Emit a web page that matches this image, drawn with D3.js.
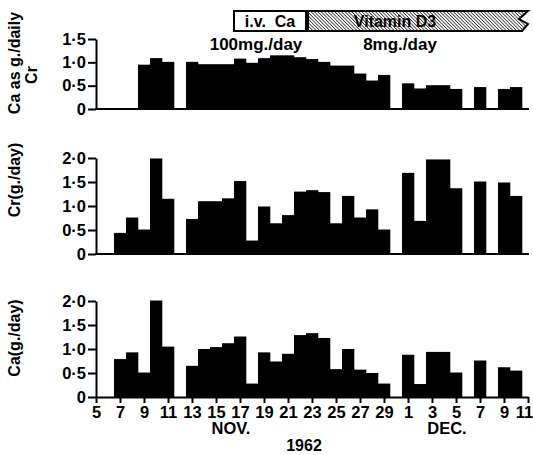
<!DOCTYPE html>
<html>
<head>
<meta charset="utf-8">
<script src="https://cdn.jsdelivr.net/npm/d3@7"></script>
<style>
  body { margin: 0; background: #fff; }
  text { font-family: "Liberation Sans", Arial, sans-serif; font-weight: bold; fill: #000; }
</style>
</head>
<body>
<svg id="chart" width="533" height="455"></svg>
<script>
// one entry per day, 5 Nov .. 11 Dec 1962 (null = no collection)
var days = d3.utcDay.range(Date.UTC(1962, 10, 5), Date.UTC(1962, 11, 12));

// Ca / Cr ratio
var ratio = [null, null, null, null, 0.95, 1.09, 1.01, null, 1.01, 0.96,
  0.96, 0.96, 1.08, 0.99, 1.09, 1.15, 1.15, 1.11, 1.07, 1.01,
  0.93, 0.93, 0.76, 0.61, 0.73, null, 0.55, 0.44, 0.51, 0.51,
  0.43, null, 0.47, null, 0.43, 0.47, null];

// creatinine g/day
var creatinine = [null, null, 0.44, 0.76, 0.51, 1.99, 1.15, null, 0.73, 1.10,
  1.10, 1.16, 1.52, 0.28, 0.99, 0.64, 0.81, 1.30, 1.33, 1.29,
  0.64, 1.21, 0.76, 0.93, 0.51, null, 1.69, 0.69, 1.97, 1.97,
  1.37, null, 1.51, null, 1.49, 1.21, null];

// calcium g/day
var calcium = [null, null, 0.79, 0.93, 0.51, 2.01, 1.05, null, 0.65, 1.00,
  1.04, 1.12, 1.26, 0.28, 0.93, 0.74, 0.90, 1.29, 1.33, 1.23,
  0.58, 1.00, 0.57, 0.50, 0.28, null, 0.88, 0.27, 0.94, 0.94,
  0.51, null, 0.76, null, 0.62, 0.55, null];

var tickDays = [
  [10, 5], [10, 7], [10, 9], [10, 11], [10, 13], [10, 15], [10, 17], [10, 19],
  [10, 21], [10, 23], [10, 25], [10, 27], [10, 29],
  [11, 1], [11, 3], [11, 5], [11, 7], [11, 9], [11, 11]
];
var months = [["NOV.", 10, 17], ["DEC.", 11, 5]];
var yearLabel = "1962";

var ivCa = { label: "i.v.  Ca", dose: "100mg./day", start: [10, 17], end: [10, 22] };
var vitD = { label: "Vitamin D3", dose: "8mg./day", start: [10, 23], end: [11, 11] };

function utc(md) { return new Date(Date.UTC(1962, md[0], md[1])); }

var svg = d3.select("#chart");

var x = d3.scaleUtc()
  .domain([utc([10, 5]), utc([11, 11])])
  .range([96, 528]);

function half(d, h) { return x(d3.utcHour.offset(d, h)); }

// hatch pattern for the vitamin D bar
var defs = svg.append("defs");
defs.append("pattern")
  .attr("id", "hatch")
  .attr("patternUnits", "userSpaceOnUse")
  .attr("width", 2.4).attr("height", 2.4)
  .attr("patternTransform", "rotate(-45)")
  .append("line")
  .attr("x1", 0).attr("y1", 0).attr("x2", 0).attr("y2", 2.4)
  .attr("stroke", "#000").attr("stroke-width", 1.3);

var panels = [
  { values: ratio, top: 39, bottom: 109, max: 1.5, ticks: [0, 0.5, 1, 1.5],
    title: ["Ca as g./daily", "Cr"], titleY: 63 },
  { values: creatinine, top: 158, bottom: 254, max: 2, ticks: [0, 0.5, 1, 1.5, 2],
    title: ["Cr(g./day)"], titleY: 180 },
  { values: calcium, top: 301, bottom: 397, max: 2, ticks: [0, 0.5, 1, 1.5, 2],
    title: ["Ca(g./day)"], titleY: 338 }
];

function fmt(v) { return v === 0 ? "0" : d3.format(".1f")(v).replace(".", "\u00b7"); }

panels.forEach(function (p, pi) {
  var y = d3.scaleLinear().domain([0, p.max]).range([p.bottom, p.top]);
  var g = svg.append("g");

  var rows = days.map(function (d, i) { return { day: d, v: p.values[i] }; })
    .filter(function (r) { return r.v != null; });

  g.selectAll("rect.bar")
    .data(rows)
    .join("rect")
    .attr("class", "bar")
    .attr("x", function (r) { return half(r.day, -12); })
    .attr("width", function (r) { return half(r.day, 12) - half(r.day, -12) + 0.3; })
    .attr("y", function (r) { return y(r.v); })
    .attr("height", function (r) { return p.bottom - y(r.v); })
    .attr("fill", "#000");

  var yAxis = g.append("g")
    .attr("transform", "translate(96,0)")
    .call(d3.axisLeft(y).tickValues(p.ticks).tickFormat(fmt).tickSize(8).tickSizeOuter(0).tickPadding(2));
  yAxis.selectAll("path, line").attr("stroke", "#000").attr("stroke-width", 2);
  yAxis.selectAll("text").attr("font-size", 16.5).attr("font-family", null);

  if (pi < 2) {
    g.append("line")
      .attr("x1", 95).attr("x2", 529)
      .attr("y1", p.bottom).attr("y2", p.bottom)
      .attr("stroke", "#000").attr("stroke-width", 2);
  } else {
    var xAxis = g.append("g")
      .attr("transform", "translate(0," + p.bottom + ")")
      .call(d3.axisBottom(x).tickValues(tickDays.map(utc))
        .tickFormat(d3.utcFormat("%-d")).tickSize(6).tickSizeOuter(0).tickPadding(3));
    xAxis.selectAll("path, line").attr("stroke", "#000").attr("stroke-width", 2);
    xAxis.selectAll("text").attr("font-size", 16.5).attr("font-family", null);
    // keep the last label inside the picture
    xAxis.selectAll(".tick:last-of-type text").attr("dx", -4);
  }

  p.title.forEach(function (t, ti) {
    g.append("text")
      .attr("transform", "translate(" + (20 + ti * 17) + "," + (p.titleY + ti * 12) + ") rotate(-90)")
      .attr("text-anchor", "middle")
      .attr("font-size", 16)
      .text(t);
  });
});

// month and year labels
svg.selectAll("text.month")
  .data(months)
  .join("text")
  .attr("class", "month")
  .attr("x", function (m) { return x(utc([m[1], m[2]])) - 9; })
  .attr("y", 434)
  .attr("text-anchor", "middle")
  .attr("font-size", 16.5)
  .text(function (m) { return m[0]; });

svg.append("text")
  .attr("x", 304).attr("y", 451)
  .attr("text-anchor", "middle")
  .attr("font-size", 16)
  .text(yearLabel);

// treatment bar
var bx0 = half(utc(ivCa.start), -12), bx1 = half(utc(ivCa.end), 12);
var vx1 = x(utc(vitD.end));
svg.append("rect")
  .attr("x", bx0).attr("y", 11).attr("width", bx1 - bx0).attr("height", 20)
  .attr("fill", "#fff").attr("stroke", "#000").attr("stroke-width", 2);
svg.append("path")
  .attr("d", "M" + (bx1 + 2) + ",11H" + vx1 + "L" + (vx1 - 9) + ",19L" + vx1 + ",24L" + (vx1 - 6) + ",31H" + (bx1 + 2) + "Z")
  .attr("fill", "url(#hatch)").attr("stroke", "#000").attr("stroke-width", 2);

svg.append("text")
  .attr("x", (bx0 + bx1) / 2).attr("y", 27)
  .attr("text-anchor", "middle").attr("font-size", 16)
  .style("white-space", "pre")
  .text(ivCa.label);
svg.append("text")
  .attr("x", 395).attr("y", 27)
  .attr("text-anchor", "middle").attr("font-size", 16)
  .attr("fill", "#111")
  .text(vitD.label);

svg.append("text")
  .attr("x", 256).attr("y", 50)
  .attr("text-anchor", "middle").attr("font-size", 17)
  .text(ivCa.dose);
svg.append("text")
  .attr("x", 400).attr("y", 50)
  .attr("text-anchor", "middle").attr("font-size", 17)
  .text(vitD.dose);
</script>
</body>
</html>
